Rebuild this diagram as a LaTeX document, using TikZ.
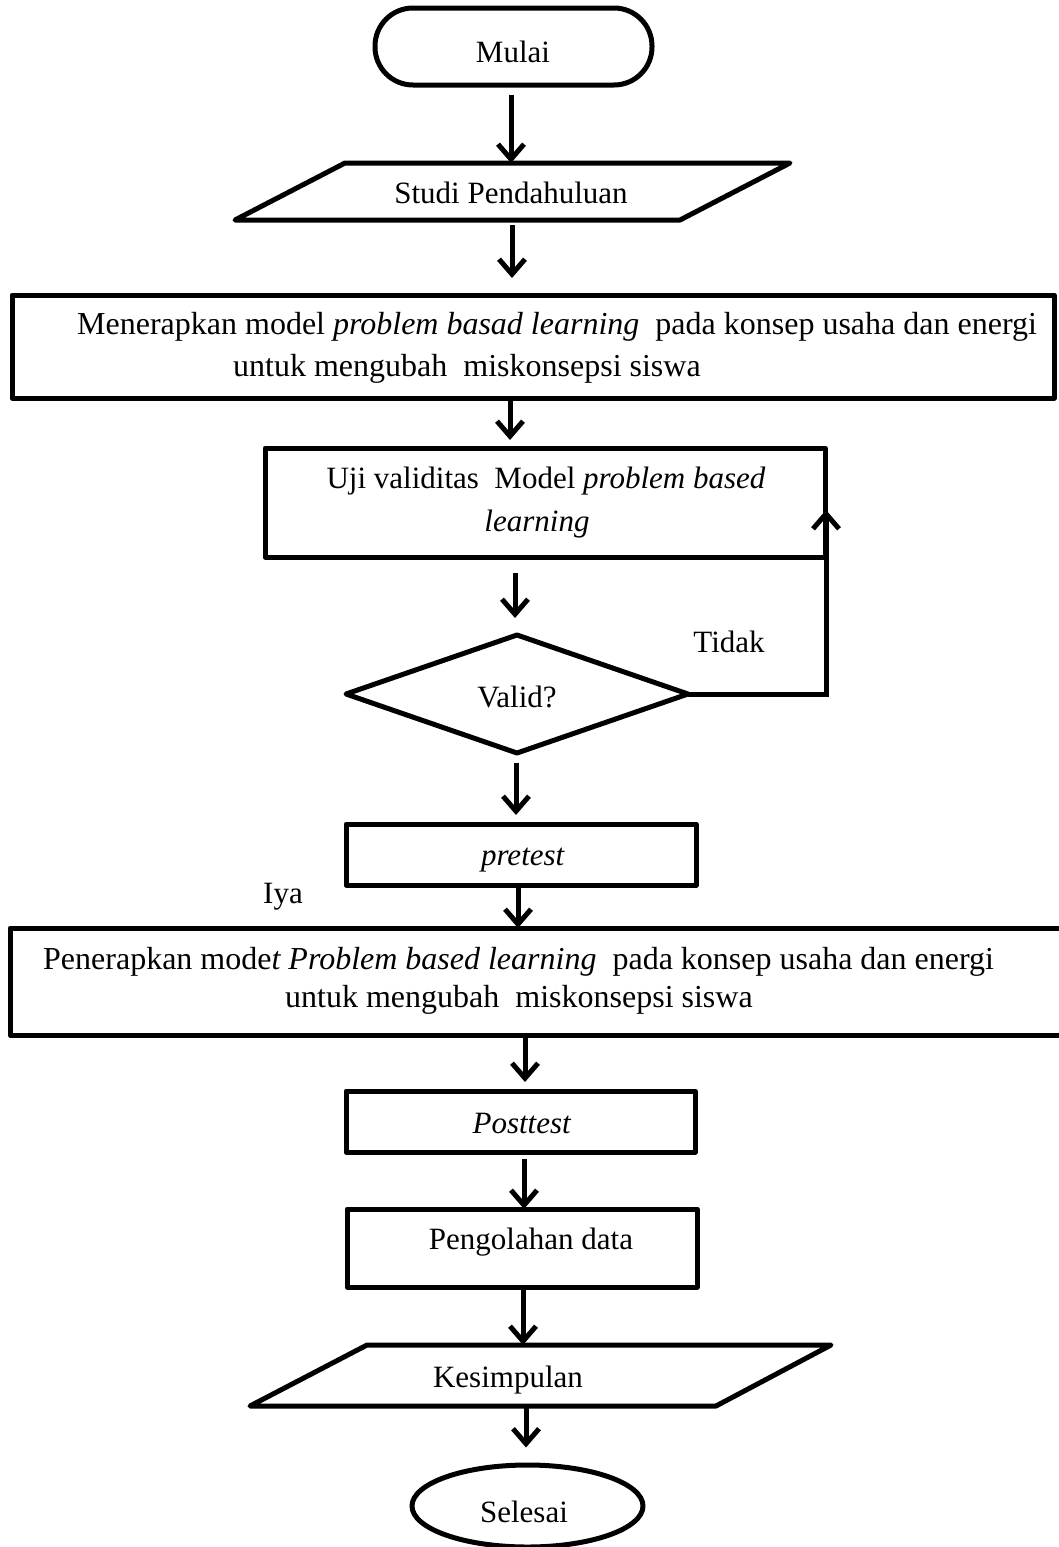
\documentclass[tikz,border=0pt]{standalone}
\usepackage{fontspec}
\setmainfont{Liberation Serif}
\usetikzlibrary{arrows.meta,shapes.geometric}
\begin{document}
\begin{tikzpicture}[x=1pt,y=-1pt,
  shapeline/.style={draw=black, line width=5pt, line join=round},
  boxnode/.style={shapeline, rectangle, inner sep=0pt, outer sep=0pt},
  txt/.style={font=\fontsize{31}{37}\selectfont, inner sep=0pt},
  bigtxt/.style={font=\fontsize{32}{38}\selectfont, inner sep=0pt},
  arr/.style={line width=5pt, -{Straight Barb[length=15pt,width=26pt]}}]
\useasboundingbox (0,0) rectangle (1059,1547);
\fill[white] (0,0) rectangle (1059,1547);

% x positions of the vertical connectors
\coordinate (a1) at (511,0);
\coordinate (a2) at (512,0);
\coordinate (a3) at (510,0);
\coordinate (a4) at (515,0);
\coordinate (a5) at (516,0);
\coordinate (a6) at (518,0);
\coordinate (a7) at (525,0);
\coordinate (a8) at (524,0);
\coordinate (a9) at (523,0);
\coordinate (a10) at (526,0);

% Mulai
\node[boxnode, rounded corners=38pt, minimum width=277pt, minimum height=77pt] (mulai) at (513.5,46.5) {};
\node[txt] (mulaiT) at (513,52) {Mulai};

% Studi Pendahuluan
\coordinate (s1) at (235,220);
\coordinate (s2) at (345,163);
\coordinate (s3) at (790,163);
\coordinate (s4) at (680,220);
\draw[shapeline] (s1) -- (s2) -- (s3) -- (s4) -- cycle;
\coordinate (studiTop) at (512,163);
\coordinate (studiBot) at (512,220);
\node[txt] (studi) at (511,193) {Studi Pendahuluan};

% Menerapkan
\node[boxnode, minimum width=1042pt, minimum height=103pt] (b3) at (533,346.5) {};
\node[bigtxt, anchor=west] (b3a) at (77,327) {Menerapkan model \textit{problem basad learning}\ \ pada konsep usaha dan energi};
\node[bigtxt, anchor=west] (b3b) at (233,369) {untuk mengubah\ \ miskonsepsi siswa};

% Uji validitas
\node[boxnode, minimum width=560pt, minimum height=109pt] (b4) at (545,502.5) {};
\node[txt] (b4a) at (546,481) {Uji validitas\ \ Model \textit{problem based}};
\node[txt] (b4b) at (537,524) {\textit{learning}};

% Valid?
\node[shapeline, diamond, minimum width=342pt, minimum height=118pt, inner sep=0pt, outer sep=0pt] (valid) at (517,694) {};
\node[txt] (validT) at (517,697) {Valid?};
\node[txt] (tidak) at (729,642) {Tidak};
\coordinate (loopTip) at (826,510);

% pretest
\node[boxnode, minimum width=350pt, minimum height=61pt] (pre) at (521,854.5) {};
\node[txt] (preT) at (523,860) {\textit{pretest}};
\node[txt] (iya) at (283,897) {Iya};

% Penerapkan
\node[boxnode, minimum width=1065pt, minimum height=107pt] (b6) at (542.5,981.5) {};
\node[bigtxt, anchor=west] (b6a) at (43,962) {Penerapkan mode\textit{t Problem based learning}\ \ pada konsep usaha dan energi};
\node[bigtxt, anchor=west] (b6b) at (285,1000) {untuk mengubah\ \ miskonsepsi siswa};

% Posttest
\node[boxnode, minimum width=349pt, minimum height=61pt] (post) at (520.5,1121.5) {};
\node[txt] (postT) at (522,1123) {\textit{Posttest}};

% Pengolahan data
\node[boxnode, minimum width=350pt, minimum height=78pt] (olah) at (522,1248) {};
\node[txt] (olahT) at (531,1242) {Pengolahan data};

% Kesimpulan
\coordinate (k1) at (250,1406);
\coordinate (k2) at (367,1345);
\coordinate (k3) at (831,1345);
\coordinate (k4) at (716,1406);
\draw[shapeline] (k1) -- (k2) -- (k3) -- (k4) -- cycle;
\coordinate (kTop) at (526,1345);
\coordinate (kBot) at (526,1406);
\node[txt] (kes) at (508,1380) {Kesimpulan};

% Selesai
\node[shapeline, ellipse, minimum width=231pt, minimum height=82pt, inner sep=0pt] (selesai) at (527.5,1506) {};
\node[txt] (selesaiT) at (524,1512) {Selesai};

% connectors
\draw[arr, shorten <=10pt] (mulai.south -| a1) -- (studiTop -| a1);
\draw[arr, shorten <=5pt, shorten >=17pt] (studiBot -| a2) -- (b3.north -| a2);
\draw[arr, shorten >=8pt] (b3.south -| a3) -- (b4.north -| a3);
\draw[arr, shorten <=16pt, shorten >=17pt] (b4.south -| a4) -- (valid.north -| a4);
\draw[arr, shorten <=10pt, shorten >=9pt] (valid.south -| a5) -- (pre.north -| a5);
\draw[arr] (pre.south -| a6) -- (b6.north -| a6);
\draw[arr, shorten >=9pt] (b6.south -| a7) -- (post.north -| a7);
\draw[arr, shorten <=7pt] (post.south -| a8) -- (olah.north -| a8);
\draw[arr] (olah.south -| a9) -- (kTop -| a9);
\draw[arr, shorten >=15pt] (kBot -| a10) -- (selesai.north -| a10);
\draw[arr] (valid.east) -| (loopTip);
\end{tikzpicture}
\end{document}
